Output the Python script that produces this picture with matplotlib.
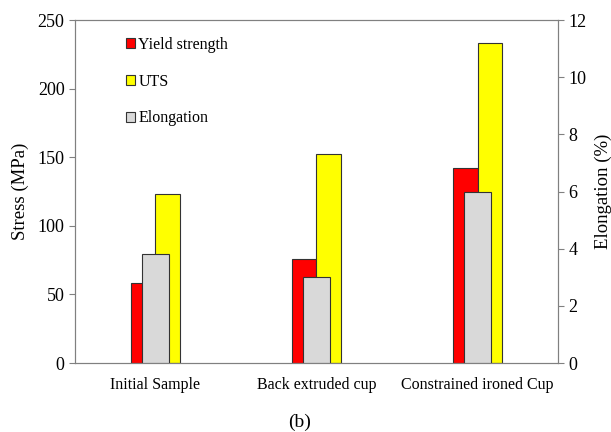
import numpy as np
import matplotlib
matplotlib.use("Agg")
import matplotlib.pyplot as plt

categories = ["Initial Sample", "Back extruded cup", "Constrained ironed Cup"]
yield_strength = [58, 76, 142]
uts = [123, 152, 233]
elongation = [3.8, 3.0, 6.0]

plt.rcParams["font.family"] = ["Liberation Serif", "DejaVu Serif"]
spine_col = "#808080"

fig = plt.figure(figsize=(6.11, 4.32), dpi=100)
ax = fig.add_axes([0.1227, 0.1597, 0.7906, 0.794])
ax2 = ax.twinx()

x = np.arange(len(categories))
w = 0.15
b1 = ax.bar(x - w / 2, yield_strength, w, color="#ff0000", edgecolor="#333333", linewidth=0.8, label="Yield strength")
b2 = ax.bar(x + w / 2, uts, w, color="#ffff00", edgecolor="#333333", linewidth=0.8, label="UTS")
b3 = ax2.bar(x, elongation, 0.17, color="#d9d9d9", edgecolor="#333333", linewidth=0.8, label="Elongation")

ax.set_xlim(-0.5, 2.5)
ax.set_ylim(0, 250)
ax2.set_ylim(0, 12)
ax.set_yticks(range(0, 251, 50))
ax2.set_yticks(range(0, 13, 2))
ax.set_xticks(x)
ax.set_xticklabels(categories, fontsize=11.5)
ax.tick_params(axis="x", length=0, pad=10)
ax.tick_params(axis="y", labelsize=13, color=spine_col, direction="out", length=4)
ax2.tick_params(axis="y", labelsize=13, color=spine_col, direction="out", length=4)
for a in (ax, ax2):
    for s in a.spines.values():
        s.set_color(spine_col)

ax.set_ylabel("Stress (MPa)", fontsize=13.5, labelpad=6)
ax2.set_ylabel("Elongation (%)", fontsize=13.5, labelpad=6)

ax2.legend(handles=[b1, b2, b3], loc="upper left", bbox_to_anchor=(0.075, 0.993),
           frameon=False, fontsize=11.5, labelspacing=1.3,
           handlelength=0.6, handleheight=0.6, handletextpad=0.2)

fig.text(0.49, 0.012, "(b)", ha="center", fontsize=14)

fig.savefig("out.png", dpi=100)
